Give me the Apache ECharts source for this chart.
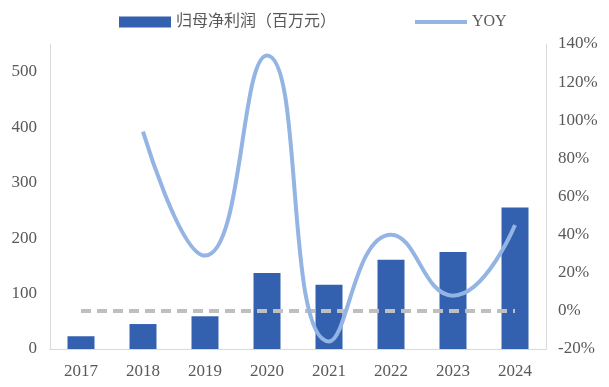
<!DOCTYPE html>
<html><head><meta charset="utf-8">
<script src="https://cdn.jsdelivr.net/npm/echarts@6/dist/echarts.min.js"></script>
<style>html,body{margin:0;padding:0;background:#fff}#c{width:609px;height:387px}</style>
</head><body><div id="c"></div>
<script>
var categories = ['2017','2018','2019','2020','2021','2022','2023','2024'];
var profit = [23, 45, 59, 137, 116, 161, 175, 255];
var yoy = [null, 94, 29, 134, -16, 40, 8, 45];
var zeroLine = [0, 0, 0, 0, 0, 0, 0, 0];
var leftTicks = {min: 0, max: 550, interval: 100};
var rightTicks = {min: -20, max: 140, interval: 20};

var font = '"Liberation Serif", "Noto Sans CJK SC", serif';
var chart = echarts.init(document.getElementById('c'));
chart.setOption({
  animation: false,
  grid: {left: 50, right: 63, top: 44, bottom: 38},
  legend: {
    data: [
      {name: '归母净利润（百万元）', icon: 'rect'},
      {name: 'YOY', itemStyle: {opacity: 0}, lineStyle: {width: 4}}
    ],
    left: 114, top: 9,
    itemWidth: 52, itemHeight: 11, itemGap: 77,
    textStyle: {color: '#595959', fontSize: 16, fontFamily: font}
  },
  xAxis: {
    type: 'category', data: categories,
    axisLine: {lineStyle: {color: '#D9D9D9', width: 1}},
    axisTick: {show: false},
    axisLabel: {color: '#595959', fontSize: 17, fontFamily: font, margin: 14}
  },
  yAxis: [{
    type: 'value', min: leftTicks.min, max: leftTicks.max, interval: leftTicks.interval,
    splitLine: {show: false},
    axisLine: {show: true, lineStyle: {color: '#D9D9D9'}},
    axisTick: {show: false},
    axisLabel: {color: '#595959', fontSize: 17, fontFamily: font, margin: 13, showMaxLabel: false}
  }, {
    type: 'value', min: rightTicks.min, max: rightTicks.max, interval: rightTicks.interval,
    splitLine: {show: false},
    axisLine: {show: true, lineStyle: {color: '#D9D9D9'}},
    axisTick: {show: false},
    axisLabel: {color: '#595959', fontSize: 17, fontFamily: font, margin: 12, formatter: '{value}%'}
  }],
  series: [{
    name: '归母净利润（百万元）', type: 'bar', data: profit, barWidth: 27,
    itemStyle: {color: '#3361B0'}, z: 2
  }, {
    name: 'zero', type: 'line', yAxisIndex: 1, data: zeroLine, symbol: 'none',
    lineStyle: {color: '#BFBFBF', width: 4, type: [10, 6]}, z: 3
  }, {
    name: 'YOY', type: 'line', yAxisIndex: 1, data: yoy, symbol: 'none', smooth: 0.5,
    lineStyle: {color: '#94B4E4', width: 4}, itemStyle: {color: '#94B4E4'}, z: 4
  }]
});
</script></body></html>
